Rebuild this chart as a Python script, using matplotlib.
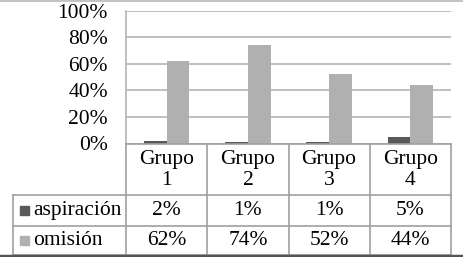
import numpy as np
import matplotlib.pyplot as plt
from matplotlib.ticker import PercentFormatter
from matplotlib.transforms import blended_transform_factory
from matplotlib.lines import Line2D
from matplotlib.patches import Rectangle

# Chart data
groups = ["Grupo\n1", "Grupo\n2", "Grupo\n3", "Grupo\n4"]
series_names = ["aspiración", "omisión"]
aspiracion = [0.02, 0.01, 0.01, 0.05]
omision = [0.62, 0.74, 0.52, 0.44]
y_ticks = [0, 0.2, 0.4, 0.6, 0.8, 1.0]

colors = ["#595959", "#b0b0b0"]
grid_col = "#b4b4b4"
W, H = 463, 257
fs = 15.5

plt.rcParams['font.family'] = ['Liberation Serif', 'DejaVu Serif']

fig = plt.figure(figsize=(W / 100, H / 100), dpi=100)

# plot area in pixel terms
left, right, top, bottom = 126, 451, 10.5, 143.5
ax = fig.add_axes([left / W, 1 - bottom / H, (right - left) / W, (bottom - top) / H])

x = np.arange(len(groups))
w = 0.28
ax.bar(x - w / 2, aspiracion, w, color=colors[0], zorder=3)
ax.bar(x + w / 2, omision, w, color=colors[1], zorder=3)

ax.set_xlim(-0.5, len(groups) - 0.5)
ax.set_ylim(0, 1)
ax.set_yticks(y_ticks)
ax.yaxis.set_major_formatter(PercentFormatter(1.0, decimals=0))
ax.tick_params(axis='y', length=0, pad=13, labelsize=fs)
ax.tick_params(axis='x', length=0, labelbottom=False)
ax.grid(axis='y', color=grid_col, linewidth=1.2, zorder=0)
for s in ["top", "right", "bottom"]:
    ax.spines[s].set_visible(False)
ax.spines["left"].set_color(grid_col)
ax.spines["left"].set_linewidth(1.2)

# data table under the plot: x from the axes' data scale, y in figure pixels
pix = fig.transFigure
def fy(py):
    return 1 - py / H

tr = blended_transform_factory(ax.transData, fig.transFigure)
row_edges = [143.5, 195, 226, 255]
x_edges = np.arange(len(groups) + 1) - 0.5
lc = "#a0a0a0"
lw = 1.2

# horizontal lines
fig.add_artist(Line2D([-0.5, len(groups) - 0.5], [fy(row_edges[0])] * 2,
                      transform=tr, color=lc, lw=lw))
for ry in row_edges[1:]:
    fig.add_artist(Line2D([13 / W, right / W], [fy(ry)] * 2,
                          transform=pix, color=lc, lw=lw))
# vertical lines
for xe in x_edges:
    fig.add_artist(Line2D([xe, xe], [fy(row_edges[0]), fy(row_edges[-1])],
                          transform=tr, color=lc, lw=lw))
fig.add_artist(Line2D([13 / W, 13 / W], [fy(row_edges[1]), fy(row_edges[-1])],
                      transform=pix, color=lc, lw=lw))

# header cells
for i, g in enumerate(groups):
    fig.text(x[i], fy((row_edges[0] + row_edges[1]) / 2 + 1), g, transform=tr,
             ha='center', va='center', fontsize=fs, linespacing=1.15)

# value rows
for r, (name, vals) in enumerate(zip(series_names, [aspiracion, omision])):
    yc = fy((row_edges[r + 1] + row_edges[r + 2]) / 2)
    for i, v in enumerate(vals):
        fig.text(x[i], yc, f"{round(v * 100)}%", transform=tr,
                 ha='center', va='center', fontsize=fs)
    fig.add_artist(Rectangle((20 / W, yc - 4.5 / H), 9 / W, 9 / H,
                             transform=pix, color=colors[r]))
    fig.text(33 / W, yc, name, transform=pix, ha='left', va='center', fontsize=fs)

# outer frame lines of the picture
fig.add_artist(Line2D([0, 1], [1 - 0.5 / H] * 2, transform=pix, color="#b8b8b8", lw=1.2))
fig.add_artist(Line2D([0, 1], [1.5 / H] * 2, transform=pix, color="#555555", lw=2.5))

fig.savefig("out.png", dpi=100)
